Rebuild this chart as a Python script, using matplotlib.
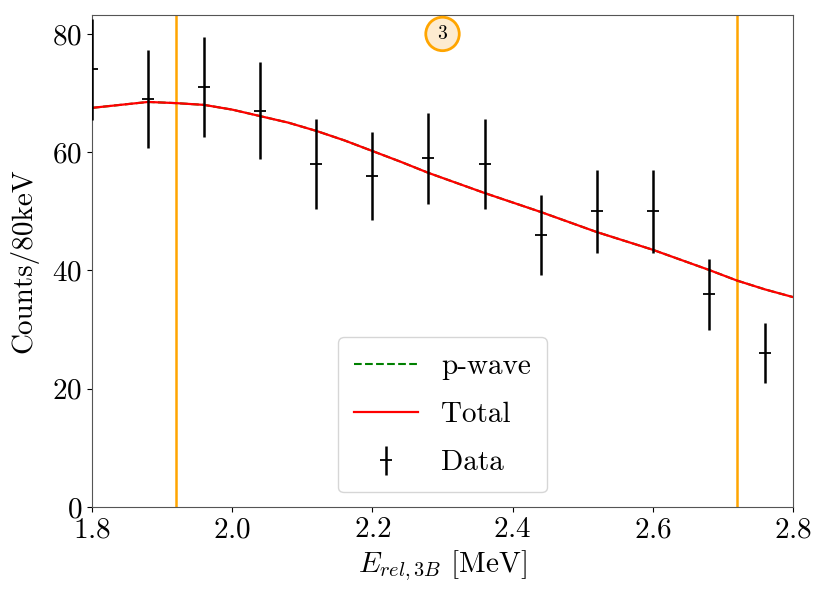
from matplotlib import pyplot as plt
import numpy as np

plt.rcParams['font.family'] = 'serif'
plt.rcParams['font.serif'] = ['cmr10']
plt.rcParams['mathtext.fontset'] = 'cm'
plt.rcParams['axes.unicode_minus'] = False
plt.rcParams['axes.formatter.use_mathtext'] = True

# data points (counts per 80 keV bin)
e_data = [1.80, 1.88, 1.96, 2.04, 2.12, 2.20, 2.28, 2.36, 2.44, 2.52, 2.60, 2.68, 2.76]
counts = [74, 69, 71, 67, 58, 56, 59, 58, 46, 50, 50, 36, 26]

# fit curves
e_fit = [1.80, 1.84, 1.88, 1.92, 1.96, 2.00, 2.04, 2.08, 2.12, 2.16, 2.20, 2.24, 2.28,
         2.32, 2.36, 2.40, 2.44, 2.48, 2.52, 2.56, 2.60, 2.64, 2.68, 2.72, 2.76, 2.80]
total = [67.5, 68.0, 68.5, 68.3, 68.0, 67.2, 66.1, 65.0, 63.6, 62.0, 60.2, 58.4, 56.5,
         54.8, 53.1, 51.5, 49.9, 48.2, 46.5, 45.0, 43.5, 41.8, 40.1, 38.3, 36.8, 35.5]
pwave = total

window = [1.92, 2.72]
label_pos = (2.30, 80)

fig = plt.figure(figsize=(8.13, 5.89), dpi=100)
ax = fig.add_axes([0.1132, 0.1392, 0.8622, 0.8353])

for v in window:
    ax.axvline(v, color='orange', lw=1.8, zorder=1)

l_p, = ax.plot(e_fit, pwave, color='green', ls='--', lw=1.5, label='p-wave', zorder=2)
l_t, = ax.plot(e_fit, total, color='red', lw=1.6, label='Total', zorder=3)
err = ax.errorbar(e_data, counts, yerr=np.sqrt(counts), fmt='_', color='black',
                  ms=9, mew=1.3, elinewidth=1.8, capsize=0, label='Data', zorder=4)

ax.text(label_pos[0], label_pos[1], '3', ha='center', va='center', fontsize=14,
        bbox=dict(boxstyle='circle,pad=0.4', fc='#fdebd0', ec='orange', lw=2))

ax.set_xlim(1.8, 2.8)
ax.set_ylim(0, 83.2)
ax.set_xticks([1.8, 2.0, 2.2, 2.4, 2.6, 2.8])
ax.set_yticks([0, 20, 40, 60, 80])
ax.tick_params(labelsize=21)
ax.set_xlabel(r'$E_{rel,3B}$ [MeV]', fontsize=21)
ax.set_ylabel('Counts/80keV', fontsize=21, labelpad=10)
for s in ax.spines.values():
    s.set_edgecolor('#555555')

ax.legend(handles=[l_p, l_t, err], loc='lower center', fontsize=21, handlelength=2.2,
          labelspacing=0.75, borderpad=0.55)

fig.savefig('out.png', dpi=100)
